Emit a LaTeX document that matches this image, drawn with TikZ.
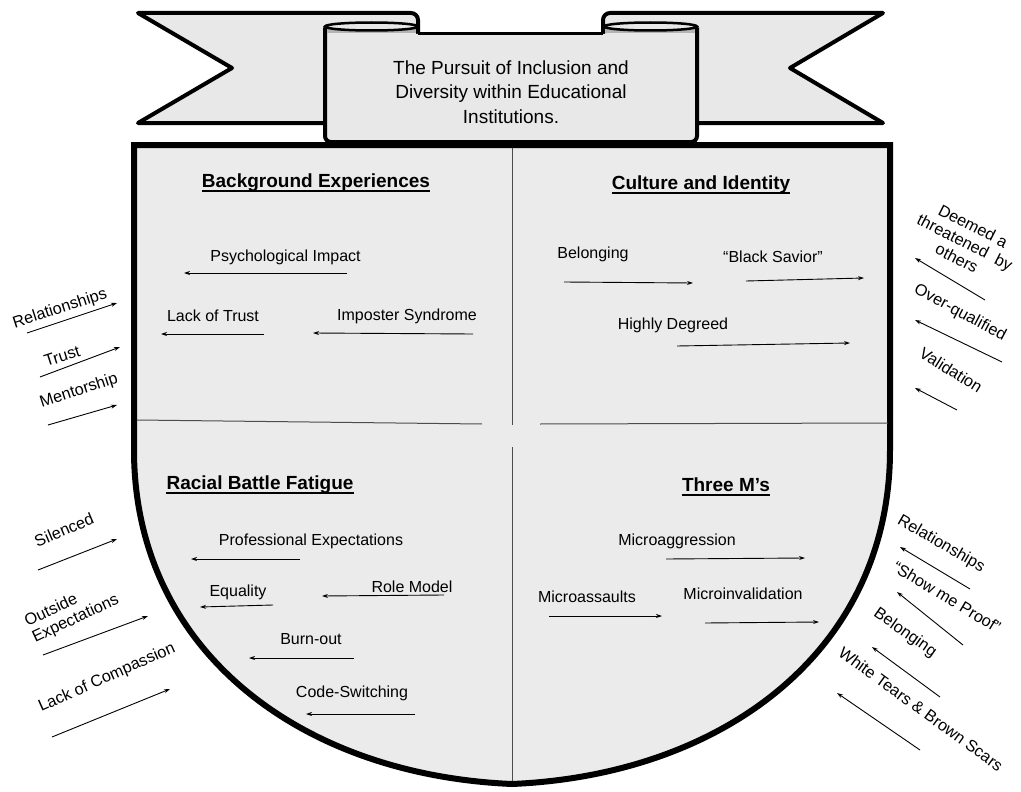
\documentclass[tikz,border=0pt]{standalone}
\usepackage{fontspec}
\setmainfont{Liberation Sans}
\usetikzlibrary{arrows.meta}
\definecolor{shieldfill}{HTML}{EBEBEB}
\definecolor{ribfill}{HTML}{E8E8E8}
\definecolor{curlfill}{HTML}{B4B4B4}
\tikzset{
  arr/.style={-{Stealth[length=6pt,width=4pt]}, line width=0.9pt},
  lbl/.style={font=\fontsize{16}{19}\selectfont, inner sep=0pt},
  outl/.style={font=\fontsize{16.3}{18}\selectfont, inner sep=0pt},
  ttl/.style={font=\bfseries\fontsize{19}{22}\selectfont, inner sep=0pt},
  uline/.style={line width=1.8pt},
  divider/.style={line width=1pt, draw=black!70},
  rib/.style={line width=4pt, fill=ribfill, line join=round},
}
\begin{document}
\begin{tikzpicture}[x=1pt,y=-1pt]
\useasboundingbox (0,0) rectangle (1021,792);

% shield
\draw[line width=6pt, fill=shieldfill, line join=miter]
  (134,145) -- (890,145) -- (890,450) .. controls (890,650) and (724,775) .. (512,784)
  .. controls (300,775) and (134,650) .. (134,450) -- cycle;

% dividers
\draw[divider] (512,148) -- (512,425);
\draw[divider] (512,447) -- (512,781);
\draw[divider] (137,420) -- (482,424);
\draw[divider] (540,424) -- (888,423);

% banner back tails
\draw[rib] (138,13) -- (411,13) arc[start angle=-90,end angle=0,radius=7] -- (418,123) -- (138,123) -- (232,68) -- cycle;
\draw[rib] (883,13) -- (610,13) arc[start angle=-90,end angle=-180,radius=7] -- (603,123) -- (883,123) -- (790,68) -- cycle;

% front panel
\fill[ribfill] (325,34) [rounded corners=6] -- (325,142) -- (697,142) [sharp corners] -- (697,34) -- cycle;
\draw[line width=4pt] (325,27.5) [rounded corners=6] -- (325,142) -- (697,142) [sharp corners] -- (697,27.5);
\draw[line width=3.5pt] (418,33.5) -- (603,33.5);
\fill[curlfill] (327,27) rectangle (416,33);
\fill[curlfill] (605,27) rectangle (695,33);
\draw[line width=2.5pt, fill=ribfill] (371.5,26.5) ellipse [x radius=46.5, y radius=4];
\draw[line width=2.5pt, fill=ribfill] (650.5,26.5) ellipse [x radius=46.5, y radius=4];

\node[font=\fontsize{19}{24.5}\selectfont, align=center, inner sep=0pt] (banner) at (511,92)
  {The Pursuit of Inclusion and\\Diversity within Educational\\Institutions.};

% titles
\node[ttl] (t1) at (316,183) {Background Experiences};
\node[ttl] (t2) at (701,185) {Culture and Identity};
\node[ttl] (t3) at (260,485) {Racial Battle Fatigue};
\node[ttl] (t4) at (726,485) {Three M’s};
\foreach \t in {t1,t2,t3,t4}
  \draw[uline] ([yshift=-3pt]\t.base west) -- ([yshift=-3pt]\t.base east);

% Background Experiences
\node[lbl] (bg1) at (285.5,257) {Psychological Impact};
\node[lbl] (bg2) at (213,316) {Lack of Trust};
\node[lbl] (bg3) at (407,316) {Imposter Syndrome};
\coordinate (bg1s) at (347,273); \coordinate (bg1e) at (184,273);
\coordinate (bg2s) at (264,334); \coordinate (bg2e) at (161,334);
\coordinate (bg3s) at (473,334); \coordinate (bg3e) at (313,333);
\draw[arr] (bg1s) -- (bg1e);
\draw[arr] (bg2s) -- (bg2e);
\draw[arr] (bg3s) -- (bg3e);

% Culture and Identity
\node[lbl] (ci1) at (593,254) {Belonging};
\node[lbl] (ci2) at (773,257) {“Black Savior”};
\node[lbl] (ci3) at (673,325) {Highly Degreed};
\coordinate (ci1s) at (564,282); \coordinate (ci1e) at (693,283);
\coordinate (ci2s) at (746,281); \coordinate (ci2e) at (864,278);
\coordinate (ci3s) at (677,346); \coordinate (ci3e) at (850,343);
\draw[arr] (ci1s) -- (ci1e);
\draw[arr] (ci2s) -- (ci2e);
\draw[arr] (ci3s) -- (ci3e);

% Racial Battle Fatigue
\node[lbl] (rb1) at (311,541) {Professional Expectations};
\node[lbl] (rb2) at (238,592) {Equality};
\node[lbl] (rb3) at (412,587) {Role Model};
\node[lbl] (rb4) at (311,639) {Burn-out};
\node[lbl] (rb5) at (352,693) {Code-Switching};
\coordinate (rb1s) at (300,559); \coordinate (rb1e) at (191,559);
\coordinate (rb2s) at (273,605); \coordinate (rb2e) at (200,607);
\coordinate (rb3s) at (444,595); \coordinate (rb3e) at (322,596);
\coordinate (rb4s) at (354,658); \coordinate (rb4e) at (249,658);
\coordinate (rb5s) at (415,714); \coordinate (rb5e) at (306,714);
\draw[arr] (rb1s) -- (rb1e);
\draw[arr] (rb2s) -- (rb2e);
\draw[arr] (rb3s) -- (rb3e);
\draw[arr] (rb4s) -- (rb4e);
\draw[arr] (rb5s) -- (rb5e);

% Three M's
\node[lbl] (tm1) at (677,541) {Microaggression};
\node[lbl] (tm2) at (587,597) {Microassaults};
\node[lbl] (tm3) at (743,594) {Microinvalidation};
\coordinate (tm1s) at (666,559); \coordinate (tm1e) at (805,558);
\coordinate (tm2s) at (549,616); \coordinate (tm2e) at (662,616);
\coordinate (tm3s) at (705,623); \coordinate (tm3e) at (819,622);
\draw[arr] (tm1s) -- (tm1e);
\draw[arr] (tm2s) -- (tm2e);
\draw[arr] (tm3s) -- (tm3e);

% outer left top
\node[outl, rotate=18] (ol1) at (60,309) {Relationships};
\node[outl, rotate=18] (ol2) at (62,356) {Trust};
\node[outl, rotate=18] (ol3) at (79,391) {Mentorship};
\coordinate (ol1s) at (27,333); \coordinate (ol1e) at (117,303);
\coordinate (ol2s) at (40,377); \coordinate (ol2e) at (120,347);
\coordinate (ol3s) at (48,425); \coordinate (ol3e) at (117,405);
\draw[arr] (ol1s) -- (ol1e);
\draw[arr] (ol2s) -- (ol2e);
\draw[arr] (ol3s) -- (ol3e);

% outer left bottom
\node[outl, rotate=23] (ol4) at (64,530) {Silenced};
\node[outl, rotate=25, align=left] (ol5) at (72,611) {Outside\\Expectations};
\node[outl, rotate=24] (ol6) at (107,678) {Lack of Compassion};
\coordinate (ol4s) at (38,570); \coordinate (ol4e) at (117,539);
\coordinate (ol5s) at (43,655); \coordinate (ol5e) at (148,616);
\coordinate (ol6s) at (52,737); \coordinate (ol6e) at (170,689);
\draw[arr] (ol4s) -- (ol4e);
\draw[arr] (ol5s) -- (ol5e);
\draw[arr] (ol6s) -- (ol6e);

% outer right top
\node[outl, rotate=-27, align=center] (or1) at (965,242) {Deemed a\\threatened~ by\\others};
\node[outl, rotate=-28] (or2) at (960,313) {Over-qualified};
\node[outl, rotate=-32] (or3) at (951,370) {Validation};
\coordinate (or1s) at (985,300); \coordinate (or1e) at (915,258);
\coordinate (or2s) at (1002,362); \coordinate (or2e) at (915,320);
\coordinate (or3s) at (957,410); \coordinate (or3e) at (915,388);
\draw[arr] (or1s) -- (or1e);
\draw[arr] (or2s) -- (or2e);
\draw[arr] (or3s) -- (or3e);

% outer right bottom
\node[outl, rotate=-30] (or4) at (941,544) {Relationships};
\node[outl, rotate=-31] (or5) at (947,597) {“Show me Proof”};
\node[outl, rotate=-35] (or6) at (905,633) {Belonging};
\node[outl, rotate=-36] (or7) at (921,709) {White Tears \& Brown Scars};
\coordinate (or4s) at (970,589); \coordinate (or4e) at (900,547);
\coordinate (or5s) at (963,645); \coordinate (or5e) at (897,592);
\coordinate (or6s) at (940,697); \coordinate (or6e) at (872,647);
\coordinate (or7s) at (920,750); \coordinate (or7e) at (837,693);
\draw[arr] (or4s) -- (or4e);
\draw[arr] (or5s) -- (or5e);
\draw[arr] (or6s) -- (or6e);
\draw[arr] (or7s) -- (or7e);
\end{tikzpicture}
\end{document}
